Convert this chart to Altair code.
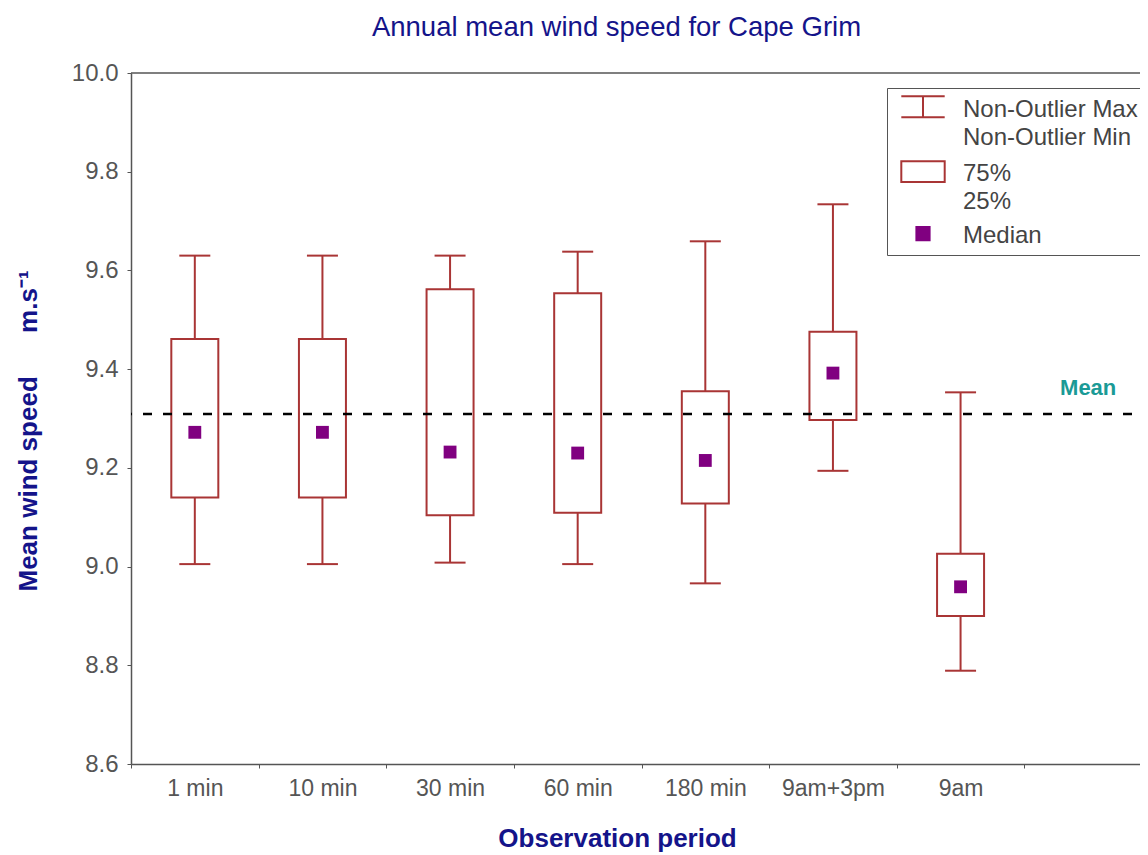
import altair as alt
import pandas as pd

# ---------------- values ----------------
categories = ["1 min", "10 min", "30 min", "60 min", "180 min", "9am+3pm", "9am"]
empty_slot = [" "]  # the eighth, empty slot on the x axis (holds the "Mean" label)
whisker_max = [9.630, 9.630, 9.630, 9.638, 9.659, 9.734, 9.353]
q75 = [9.461, 9.461, 9.562, 9.554, 9.355, 9.476, 9.026]
medians = [9.272, 9.272, 9.232, 9.230, 9.215, 9.392, 8.959]
q25 = [9.140, 9.140, 9.104, 9.109, 9.128, 9.297, 8.900]
whisker_min = [9.005, 9.005, 9.008, 9.005, 8.966, 9.194, 8.789]
mean_value = [9.309]
mean_text = ["Mean"]
y_domain = [8.6, 10.0]
y_ticks = [8.6, 8.8, 9.0, 9.2, 9.4, 9.6, 9.8, 10.0]
legend_items = ["Non-Outlier Max|Non-Outlier Min\u00a0\u00a0", "75%|25%", "Median"]

# ---------------- styling ----------------
FONT = "Liberation Sans"
NAVY = "#14148a"
BROWN = "#a93535"
PURPLE = "#800080"
TEAL = "#1a9a96"
GREY = "#555555"

box_df = pd.DataFrame({
    "period": categories,
    "wmax": whisker_max,
    "q75": q75,
    "median": medians,
    "q25": q25,
    "wmin": whisker_min,
})
mean_df = pd.DataFrame({"period": empty_slot, "mean": mean_value, "label": mean_text})
frame_df = pd.DataFrame({"top": [y_domain[1]]})
legend_df = pd.DataFrame({"item": legend_items})

x_axis = alt.Axis(
    title="Observation period", tickBand="extent", labelAngle=0,
    labelFont=FONT, labelFontSize=23, labelColor=GREY, labelPadding=9,
    domainColor=GREY, domainWidth=1.5, tickColor=GREY, tickSize=4,
    titleFont=FONT, titleFontSize=26, titleFontWeight="bold", titleColor=NAVY,
    titleX=486, titleY=82, titleAlign="center", titleBaseline="alphabetic",
    grid=False,
)
y_axis = alt.Axis(
    title="Mean wind speed\u00a0\u00a0\u00a0\u00a0\u00a0\u00a0m.s\u207b\u00b9",
    values=y_ticks, format=".1f",
    labelFont=FONT, labelFontSize=24, labelColor=GREY, labelPadding=9,
    domainColor=GREY, domainWidth=1.5, tickColor=GREY, tickSize=4,
    titleFont=FONT, titleFontSize=26, titleFontWeight="bold", titleColor=NAVY,
    titleAngle=-90, titleX=-95, titleY=518, titleAlign="left", titleBaseline="alphabetic",
    grid=False,
)

x_scale = alt.Scale(type="band", domain=categories + empty_slot, paddingInner=0, paddingOuter=0)
y_scale = alt.Scale(domain=y_domain, nice=False, zero=False)

X = alt.X("period:N", scale=x_scale, axis=x_axis)

def Y(field):
    return alt.Y(f"{field}:Q", scale=y_scale, axis=y_axis)

base = alt.Chart(box_df)

stems = base.mark_rule(color=BROWN, strokeWidth=2).encode(
    x=X, y=Y("wmin"), y2=alt.Y2("wmax"))
cap_top = base.mark_tick(color=BROWN, thickness=2, size=31, opacity=1).encode(x=X, y=Y("wmax"))
cap_bot = base.mark_tick(color=BROWN, thickness=2, size=31, opacity=1).encode(x=X, y=Y("wmin"))
boxes = base.mark_bar(fill="white", stroke=BROWN, strokeWidth=2, size=47).encode(
    x=X, y=Y("q25"), y2=alt.Y2("q75"))
mean_line = alt.Chart(mean_df).mark_rule(
    color="black", strokeDash=[9, 11], strokeWidth=2.5).encode(y=Y("mean"))
med = base.mark_square(size=165, color=PURPLE, opacity=1).encode(x=X, y=Y("median"))
mean_lbl = alt.Chart(mean_df).mark_text(
    font=FONT, fontSize=22, fontWeight="bold", color=TEAL, baseline="alphabetic", dy=-19
).encode(x=X, y=Y("mean"), text="label:N")
top_frame = alt.Chart(frame_df).mark_rule(color=GREY, strokeWidth=1.5).encode(y=Y("top"))

# legend: custom symbols (whisker, box, median square); symbolSize 1681 -> r = 20.5 px,
# drawn relative to the first label line's baseline
sym_paths = [
    "M-1.0585,-0.9878L1.0585,-0.9878M0,-0.9878L0,0.0366M-1.0585,0.0366L1.0585,0.0366",
    "M-1.0585,-0.9659L1.0585,-0.9659L1.0585,0.0439L-1.0585,0.0439Z",
    "M-0.322,-0.7585L0.322,-0.7585L0.322,-0.1098L-0.322,-0.1098Z",
]
leg = alt.Legend(
    title=None, orient="none", legendX=756, legendY=15,
    labelExpr="split(datum.label, '|')", labelBaseline="alphabetic",
    labelFont=FONT, labelFontSize=24, labelColor="#444444", labelLimit=600,
    labelOffset=18.5, symbolOffset=7.5, symbolSize=1681, symbolStrokeWidth=2,
    symbolOpacity=1, strokeColor=GREY, fillColor="white", padding=7, rowPadding=6.5,
)
legend_layer = alt.Chart(legend_df).transform_filter("false").mark_point(opacity=1).encode(
    shape=alt.Shape("item:N", scale=alt.Scale(domain=legend_items, range=sym_paths), legend=leg),
    stroke=alt.Stroke("item:N", scale=alt.Scale(domain=legend_items, range=[BROWN, BROWN, PURPLE]), legend=leg),
    fill=alt.Fill("item:N", scale=alt.Scale(domain=legend_items, range=["transparent", "white", PURPLE]), legend=leg),
)

chart = alt.layer(
    stems, cap_top, cap_bot, boxes, mean_line, med, mean_lbl, top_frame, legend_layer
).properties(
    width=1021, height=691,
    title=alt.TitleParams(
        text="Annual mean wind speed for Cape Grim", font=FONT, fontSize=27.5,
        fontWeight="normal", color=NAVY, anchor="middle", frame="group",
        dx=-25, dy=30.5, offset=28, baseline="alphabetic",
    ),
    padding={"left": 123, "top": 65, "right": -12, "bottom": 92},
    autosize=alt.AutoSizeParams(type="none"),
).configure(
    style={"guide-label": {"lineHeight": 28}}
).configure_view(stroke="transparent")

chart.save("out.html", embed_options={"renderer": "svg", "actions": False})
